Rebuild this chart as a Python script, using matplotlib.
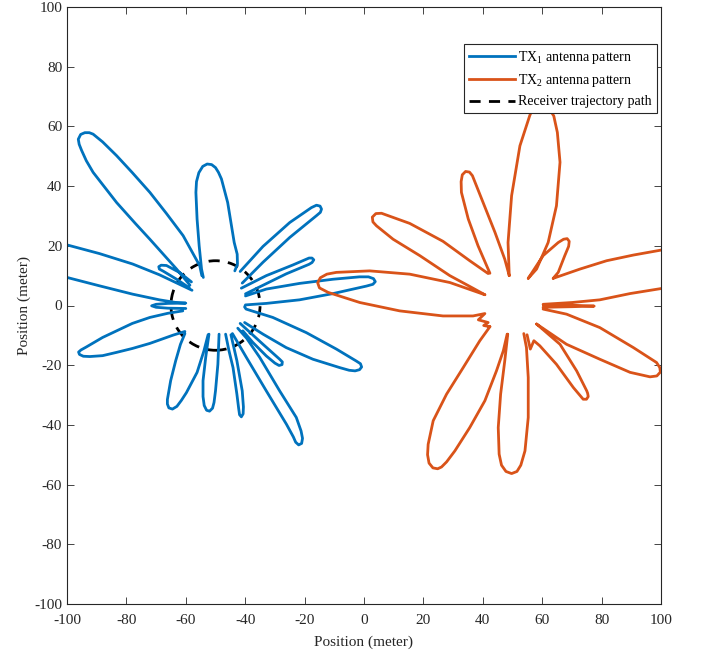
import numpy as np
import matplotlib.pyplot as plt
from matplotlib.patches import Circle
from matplotlib.lines import Line2D

plt.rcParams['font.family'] = ['Liberation Serif', 'DejaVu Serif']
plt.rcParams['mathtext.fontset'] = 'custom'
plt.rcParams['mathtext.rm'] = 'Liberation Serif'
plt.rcParams['mathtext.default'] = 'regular'
plt.rcParams['axes.unicode_minus'] = False

nan = np.nan

# TX1 pattern traced lobe by lobe (meter), lobes split by nan rows
tx1_pts = [
    (-39.9, 3.2), (-32.9, 5.5), (-21.7, 7.4), (-10.4, 8.8), (-1.5, 9.6), (1.5, 9.6), (3.2, 9.0), (3.8, 8.0),
    (3.0, 7.1), (0.8, 6.5), (-10.4, 4.0), (-21.7, 1.9), (-32.9, 0.7), (-39.9, 0.2), (-40.2, -0.5),
    (-39.7, -1.2), (-30.7, -4.0), (-19.4, -9.1), (-9.3, -14.6), (-2.6, -18.6), (-1.2, -19.5), (-0.8, -20.6),
    (-1.5, -21.5), (-3.0, -21.9), (-5.0, -21.7), (-8.2, -20.8), (-17.2, -18.0), (-26.2, -14.1),
    (-34.0, -9.6), (-40.2, -5.7), (nan, nan),
    (-41.7, -6.0), (-34.0, -13.0), (-28.4, -18.0), (-27.5, -18.9), (-27.6, -19.8), (-28.6, -20.1),
    (-30.0, -19.3), (-32.9, -16.9), (-37.4, -12.4), (-40.8, -8.5), (nan, nan),
    (-42.5, -7.6), (-39.5, -11.0), (-35.1, -17.4), (-28.4, -28.6), (-22.8, -37.5), (-21.2, -42.0),
    (-20.7, -44.5), (-21.0, -46.2), (-22.0, -46.7), (-23.0, -45.8), (-23.8, -44.0), (-26.1, -39.8),
    (-32.9, -28.6), (-39.6, -17.4), (-44.3, -9.4), (nan, nan),
    (-44.8, -9.8), (-42.8, -18.5), (-41.0, -28.6), (-40.6, -34.0), (-40.7, -36.3), (-41.3, -37.3),
    (-41.9, -36.6), (-42.2, -34.5), (-42.8, -29.7), (-44.1, -20.8), (-45.5, -15.0), (-46.6, -9.6), (nan, nan),
    (-48.8, -9.6), (-49.2, -19.7), (-50.0, -28.6), (-50.5, -32.5), (-51.0, -34.4), (-52.0, -35.4),
    (-53.0, -35.1), (-53.8, -33.5), (-54.2, -30.5), (-54.2, -25.2), (-53.3, -17.4), (-52.2, -9.6), (nan, nan),
    (-52.5, -9.8), (-53.9, -15.2), (-56.2, -22.4), (-59.8, -29.2), (-61.5, -31.8), (-63.0, -33.8),
    (-64.5, -34.7), (-65.7, -34.3), (-66.2, -33.0), (-66.2, -31.5), (-65.1, -25.2), (-63.4, -18.5),
    (-61.8, -13.0), (-60.3, -9.4), (nan, nan),
    (-60.3, -8.7), (-64.2, -9.9), (-72.1, -12.7), (-78.0, -14.4), (-83.3, -15.7), (-88.0, -16.8),
    (-92.3, -17.1), (-94.5, -17.0), (-95.8, -16.4), (-96.1, -15.6), (-95.3, -14.9), (-93.5, -13.9),
    (-88.0, -10.7), (-83.3, -8.5), (-78.0, -6.0), (-72.1, -4.0), (-66.0, -2.6), (-61.0, -1.8), (nan, nan),
    (-60.0, -1.0), (-66.0, -0.9), (-70.0, -0.6), (-71.5, -0.1), (-70.0, 0.4), (-66.0, 0.7), (-60.0, 0.8),
    (-63.3, 1.0), (-68.9, 1.9), (-77.9, 3.8), (-89.1, 6.6), (-100.0, 9.4), (-110.0, 11.9), (-120.0, 13.0),
    (-130.0, 16.0), (-125.0, 22.0), (-110.0, 23.0), (-100.0, 20.3), (-89.1, 17.4), (-77.9, 13.9),
    (-68.9, 10.3), (-62.1, 7.1), (-57.9, 5.1), (nan, nan),
    (-58.8, 5.9), (-63.1, 8.8), (-67.6, 11.5), (-68.9, 12.2), (-69.1, 13.0), (-68.3, 13.5), (-66.5, 13.4),
    (-62.0, 11.0), (-58.1, 7.9), (nan, nan),
    (-58.6, 6.8), (-63.1, 12.2), (-72.1, 22.2), (-77.0, 27.5), (-83.3, 34.5), (-91.2, 44.6), (-93.5, 48.5),
    (-95.1, 52.0), (-95.9, 54.0), (-96.2, 55.7), (-95.4, 57.3), (-94.0, 57.9), (-92.5, 57.9), (-91.2, 57.4),
    (-88.0, 54.8), (-83.3, 50.2), (-78.0, 44.5), (-72.1, 37.9), (-66.5, 30.8), (-60.9, 23.4), (-55.3, 13.3),
    (-54.6, 10.0), (nan, nan),
    (-54.1, 9.4), (-54.7, 12.2), (-55.5, 20.0), (-56.2, 28.9), (-56.6, 37.9), (-56.4, 41.5), (-55.6, 44.5),
    (-54.3, 46.6), (-52.8, 47.4), (-51.3, 47.2), (-50.0, 46.2), (-49.0, 44.6), (-48.0, 42.4), (-45.9, 34.5),
    (-44.6, 26.7), (-43.7, 21.1), (-42.7, 17.2), (-42.6, 13.9), (-43.5, 11.6), (nan, nan),
    (-41.7, 11.4), (-34.0, 19.8), (-25.0, 27.8), (-17.7, 32.8), (-16.0, 33.6), (-14.8, 33.3), (-14.3, 32.3),
    (-14.7, 31.2), (-16.0, 30.1), (-25.0, 22.8), (-34.0, 14.5), (-41.0, 7.5), (nan, nan),
    (-41.3, 5.8), (-32.9, 10.0), (-23.9, 13.6), (-18.5, 15.9), (-17.5, 15.9), (-16.9, 15.3), (-17.5, 14.4),
    (-18.5, 13.8), (-26.2, 10.6), (-34.0, 6.8), (-39.9, 3.9),
]

# TX2 pattern
tx2_pts = [
    (60.3, -0.6), (70.0, -0.4), (77.5, -0.2), (70.0, 0.1), (60.5, 0.1), (nan, nan),
    (60.3, 0.4), (70.0, 1.0), (79.4, 1.9), (89.6, 4.0), (100.8, 5.8), (110.0, 7.5), (125.0, 13.0),
    (110.0, 20.5), (100.8, 18.7), (90.7, 16.9), (81.7, 15.0), (72.7, 12.2), (63.7, 9.1), (nan, nan),
    (63.7, 9.1), (65.4, 11.1), (67.6, 16.7), (68.9, 19.8), (69.1, 21.5), (68.4, 22.4), (67.2, 22.2),
    (65.4, 21.1), (60.3, 16.7), (55.3, 9.1), (nan, nan),
    (55.3, 9.1), (58.1, 12.2), (62.0, 21.1), (64.8, 33.4), (66.0, 48.0), (65.1, 58.0), (63.9, 63.5),
    (61.8, 66.8), (59.2, 67.8), (57.0, 66.5), (55.8, 63.6), (52.5, 53.5), (49.7, 36.8), (48.5, 21.1),
    (48.9, 10.0), (nan, nan),
    (48.9, 10.0), (47.4, 15.5), (44.1, 24.5), (40.1, 34.5), (36.5, 43.5), (35.5, 44.7), (34.2, 44.9),
    (33.1, 43.8), (32.7, 41.5), (32.8, 37.9), (35.1, 29.0), (38.4, 20.0), (42.4, 10.8), (nan, nan),
    (41.8, 10.7), (35.6, 15.0), (26.6, 21.5), (15.4, 27.5), (5.9, 30.9), (4.0, 30.8), (2.8, 29.6),
    (3.0, 28.0), (4.2, 26.7), (9.8, 22.2), (18.8, 16.7), (28.9, 10.0), (36.7, 5.8), (40.7, 3.6), (nan, nan),
    (40.7, 3.6), (28.9, 7.7), (15.4, 10.5), (1.9, 11.6), (-9.3, 11.1), (-12.5, 10.5), (-14.7, 9.3),
    (-15.6, 7.6), (-15.0, 5.9), (-12.1, 4.4), (-1.4, 1.0), (12.0, -1.8), (26.6, -3.5), (36.7, -3.5),
    (40.7, -2.7), (38.5, -4.8), (41.8, -5.7), (40.3, -6.7), (42.4, -7.1), (nan, nan),
    (42.4, -7.1), (39.0, -11.8), (33.4, -20.8), (27.8, -29.7), (23.3, -38.6), (21.6, -46.5), (21.4, -50.0),
    (21.9, -52.8), (23.2, -54.4), (24.8, -54.7), (26.1, -54.1), (27.8, -52.4), (30.6, -48.7), (35.6, -40.9),
    (40.7, -31.9), (44.6, -21.9), (46.9, -15.2), (48.2, -9.6), (nan, nan),
    (48.4, -9.6), (47.4, -18.5), (46.0, -29.7), (45.2, -40.9), (45.5, -49.8), (46.3, -53.5), (47.8, -55.6),
    (49.7, -56.3), (51.5, -55.6), (52.8, -53.5), (54.2, -48.7), (55.3, -37.5), (55.3, -24.1), (54.7, -14.1),
    (53.8, -9.4), (nan, nan),
    (54.9, -9.8), (56.0, -14.6), (57.2, -11.8), (59.2, -13.5), (64.8, -19.7), (70.5, -27.5), (73.8, -31.4),
    (74.9, -31.4), (75.5, -30.5), (75.3, -29.4), (75.0, -28.6), (71.6, -21.9), (66.0, -13.0), (58.1, -6.2),
    (nan, nan),
    (58.1, -6.2), (68.2, -13.0), (79.4, -18.0), (89.6, -22.4), (96.3, -23.9), (98.6, -23.6), (99.8, -22.3),
    (99.6, -20.8), (98.5, -19.1), (90.7, -14.1), (79.4, -7.4), (68.2, -2.9), (60.3, -1.2),
]

rx_center = (-50, 0)
rx_radius = 15
ticks = np.arange(-100, 101, 20)

tx1_x, tx1_y = np.array(tx1_pts).T
tx2_x, tx2_y = np.array(tx2_pts).T

blue = '#0072BD'
orange = '#D95319'
grey = '#262626'

fig = plt.figure(figsize=(7.01, 6.54), dpi=100)
ax = fig.add_axes([67/701, 1 - 604/654, 594/701, 597/654])

ax.plot(tx1_x, tx1_y, color=blue, lw=2, solid_joinstyle='round', solid_capstyle='round')
ax.plot(tx2_x, tx2_y, color=orange, lw=2, solid_joinstyle='round', solid_capstyle='round')
ax.add_patch(Circle(rx_center, rx_radius, fill=False, ec='k', lw=2, ls=(0, (4, 3))))

ax.set_xlim(-100, 100)
ax.set_ylim(-100, 100)
ax.set_xticks(ticks)
ax.set_yticks(ticks)
ax.tick_params(direction='in', top=True, right=True, length=5, width=0.6,
               colors=grey, labelsize=11, labelcolor=grey)
ax.tick_params(axis='x', pad=7)
for s in ax.spines.values():
    s.set_color(grey)
    s.set_linewidth(0.8)
ax.set_xlabel('Position (meter)', fontsize=11, color=grey, labelpad=6)
ax.set_ylabel('Position (meter)', fontsize=11, color=grey, labelpad=2)

handles = [Line2D([], [], color=blue, lw=2),
           Line2D([], [], color=orange, lw=2),
           Line2D([], [], color='k', lw=2, ls=(0, (4, 3)))]
labels = ['TX$_1$ antenna pattern', 'TX$_2$ antenna pattern', 'Receiver trajectory path']
leg = ax.legend(handles, labels, loc='upper right', bbox_to_anchor=(0.993, 0.938),
                borderaxespad=0, fontsize=10, handlelength=3.3, handletextpad=0.25,
                borderpad=0.35, labelspacing=0.45, fancybox=False, framealpha=1)
leg.get_frame().set_edgecolor(grey)
leg.get_frame().set_linewidth(0.8)

fig.savefig('out.png', dpi=100)
